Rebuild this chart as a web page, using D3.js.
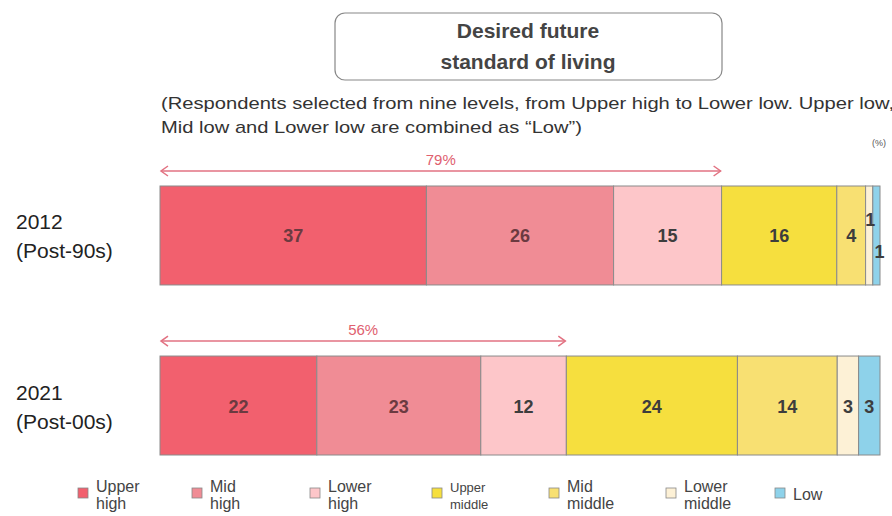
<!DOCTYPE html>
<html><head><meta charset="utf-8">
<script src="https://cdn.jsdelivr.net/npm/d3@7"></script>
<style>body{margin:0;background:#fff}svg{display:block}</style>
</head><body>
<svg id="c" width="892" height="516"></svg>
<script>
const categories = ["Upper high","Mid high","Lower high","Upper middle","Mid middle","Lower middle","Low"];
const legendLines = [["Upper","high"],["Mid","high"],["Lower","high"],["Upper","middle"],["Mid","middle"],["Lower","middle"],["Low"]];
const rows = [["2012","(Post-90s)"],["2021","(Post-00s)"]];
const values2012 = [37,26,15,16,4,1,1];
const values2021 = [22,23,12,24,14,3,3];
const highShare = ["79%","56%"];
const colors = ["#f2606e","#f08c95","#fdc6c9","#f6df3e","#f8e072","#fdf1d6","#8ed2ea"];

const svg = d3.select("#c");
const font = "Liberation Sans, Arial, sans-serif";
const L = 160, R = 880;
const series = [values2012, values2021];
const y = d3.scaleBand().domain([0,1]).range([186,455]).paddingInner(0.418).paddingOuter(0);

// title box
svg.append("rect").attr("x",335).attr("y",13).attr("width",387).attr("height",67).attr("rx",10)
  .attr("fill","#fff").attr("stroke","#888").attr("stroke-width",1.2);
svg.append("text").attr("x",528).attr("y",38).attr("text-anchor","middle").attr("font-family",font)
  .attr("font-weight","bold").attr("font-size",21).attr("fill","#444").text("Desired future");
svg.append("text").attr("x",528).attr("y",69).attr("text-anchor","middle").attr("font-family",font)
  .attr("font-weight","bold").attr("font-size",21).attr("fill","#444").text("standard of living");

// subtitle
svg.append("text").attr("x",161).attr("y",109).attr("font-family",font).attr("font-size",17).attr("fill","#333")
  .attr("textLength",733).attr("lengthAdjust","spacingAndGlyphs")
  .text("(Respondents selected from nine levels, from Upper high to Lower low. Upper low,");
svg.append("text").attr("x",161).attr("y",133).attr("font-family",font).attr("font-size",17).attr("fill","#333")
  .attr("textLength",421).attr("lengthAdjust","spacingAndGlyphs")
  .text("Mid low and Lower low are combined as \u201cLow\u201d)");
svg.append("text").attr("x",872).attr("y",146).attr("font-family",font).attr("font-size",9).attr("fill","#555").text("(%)");

series.forEach((vals, r) => {
  const total = d3.sum(vals);
  const x = d3.scaleLinear().domain([0,total]).range([L,R]);
  const cum = d3.cumsum(vals);
  const segs = vals.map((v,i)=>({v, i, x0: cum[i]-v, x1: cum[i]}));
  const g = svg.append("g");
  const yy = y(r), h = y.bandwidth();
  g.selectAll("rect").data(segs).join("rect")
    .attr("x",d=>x(d.x0)).attr("y",yy).attr("width",d=>x(d.x1)-x(d.x0)).attr("height",h)
    .attr("fill",d=>colors[d.i]).attr("stroke","#8a8a8a").attr("stroke-width",1);
  g.selectAll("text.v").data(segs).join("text").attr("class","v")
    .attr("x",d=>{ if(r===0 && d.i===5) return (x(d.x0)+x(d.x1))/2 + 1; if(r===0&&d.i===6) return (x(d.x0)+x(d.x1))/2 + 3; return (x(d.x0)+x(d.x1))/2; })
    .attr("y",d=>{ if(r===0 && d.i===5) return yy+h/2-9; if(r===0 && d.i===6) return yy+h/2+23; return yy+h/2+7; })
    .attr("text-anchor","middle").attr("font-family",font).attr("font-weight","bold").attr("font-size",18)
    .attr("fill",d=>d.i<2?"#6b3a40":"#3d3d3d")
    .text(d=>d.v);
  // row label
  svg.append("text").attr("x",16).attr("y",yy+h/2-6).attr("font-family",font).attr("font-size",21).attr("fill","#222").text(rows[r][0]);
  svg.append("text").attr("x",16).attr("y",yy+h/2+23).attr("font-family",font).attr("font-size",21).attr("fill","#222").text(rows[r][1]);
  // arrow over high segments
  const hx = x(cum[2]);
  const ay = yy - 15;
  const col = "#e27282";
  svg.append("line").attr("x1",L+1).attr("x2",hx-1).attr("y1",ay).attr("y2",ay).attr("stroke",col).attr("stroke-width",1.5);
  svg.append("path").attr("d",`M${L+8},${ay-5} L${L+1},${ay} L${L+8},${ay+5}`).attr("fill","none").attr("stroke",col).attr("stroke-width",1.5);
  svg.append("path").attr("d",`M${hx-8},${ay-5} L${hx-1},${ay} L${hx-8},${ay+5}`).attr("fill","none").attr("stroke",col).attr("stroke-width",1.5);
  svg.append("text").attr("x",(L+hx)/2).attr("y",ay-6).attr("text-anchor","middle").attr("font-family",font)
    .attr("font-size",15).attr("fill","#e0606f").text(highShare[r]);
});

// legend
const legX = [78,192,310,432,549,666,775];
const lg = svg.append("g");
categories.forEach((c,i)=>{
  lg.append("rect").attr("x",legX[i]).attr("y",488).attr("width",10).attr("height",10)
    .attr("fill",colors[i]).attr("stroke","#888").attr("stroke-width",0.8);
  const lines = legendLines[i];
  const fs = i===3 ? 13 : 16;
  if(lines.length===1){
    lg.append("text").attr("x",legX[i]+18).attr("y",500).attr("font-family",font).attr("font-size",fs).attr("fill","#444").text(lines[0]);
  } else {
    lines.forEach((t,k)=>{
      lg.append("text").attr("x",legX[i]+18).attr("y",492+k*17).attr("font-family",font).attr("font-size",fs).attr("fill","#444").text(t);
    });
  }
});
</script>
</body></html>
